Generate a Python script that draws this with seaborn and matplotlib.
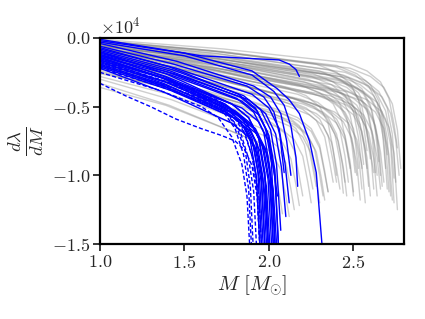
import matplotlib
matplotlib.use("Agg")
import matplotlib.pyplot as plt
import seaborn as sns
import pandas as pd

# values in units of 1e4
SCALE = 1e4

# grey curves: (masses, dlambda/dM)
grey_curves = [
    ([1.0, 1.74, 2.48, 2.60, 2.68, 2.73, 2.76, 2.78], [-0.02, -0.10, -0.22, -0.28, -0.36, -0.48, -0.67, -0.95]),
    ([1.0, 1.725, 2.45, 2.57, 2.65, 2.70, 2.73, 2.75], [-0.03, -0.12, -0.25, -0.31, -0.39, -0.51, -0.70, -1.05]),
    ([1.0, 1.71, 2.42, 2.54, 2.62, 2.67, 2.70, 2.72], [-0.05, -0.15, -0.28, -0.34, -0.42, -0.54, -0.73, -1.15]),
    ([1.0, 1.70, 2.40, 2.52, 2.60, 2.65, 2.68, 2.70], [-0.04, -0.15, -0.30, -0.36, -0.44, -0.56, -0.75, -1.10]),
    ([1.0, 1.68, 2.36, 2.48, 2.56, 2.61, 2.64, 2.66], [-0.06, -0.15, -0.27, -0.33, -0.41, -0.53, -0.72, -1.00]),
    ([1.0, 1.72, 2.44, 2.56, 2.64, 2.69, 2.72, 2.74], [-0.07, -0.18, -0.33, -0.39, -0.47, -0.59, -0.78, -1.20]),
    ([1.0, 1.66, 2.32, 2.44, 2.52, 2.57, 2.60, 2.62], [-0.08, -0.19, -0.35, -0.41, -0.49, -0.61, -0.80, -1.10]),
    ([1.0, 1.69, 2.38, 2.50, 2.58, 2.63, 2.66, 2.68], [-0.10, -0.22, -0.38, -0.44, -0.52, -0.64, -0.83, -1.05]),
    ([1.0, 1.64, 2.28, 2.40, 2.48, 2.53, 2.56, 2.58], [-0.05, -0.16, -0.32, -0.38, -0.46, -0.58, -0.77, -0.95]),
    ([1.0, 1.625, 2.25, 2.37, 2.45, 2.50, 2.53, 2.55], [-0.09, -0.22, -0.40, -0.46, -0.54, -0.66, -0.85, -1.10]),
    ([1.0, 1.65, 2.30, 2.42, 2.50, 2.55, 2.58, 2.60], [-0.12, -0.25, -0.42, -0.48, -0.56, -0.68, -0.87, -1.15]),
    ([1.0, 1.61, 2.22, 2.34, 2.42, 2.47, 2.50, 2.52], [-0.11, -0.22, -0.36, -0.42, -0.50, -0.62, -0.81, -1.00]),
    ([1.0, 1.60, 2.20, 2.32, 2.40, 2.45, 2.48, 2.50], [-0.14, -0.27, -0.45, -0.51, -0.59, -0.71, -0.90, -1.12]),
    ([1.0, 1.635, 2.27, 2.39, 2.47, 2.52, 2.55, 2.57], [-0.13, -0.28, -0.48, -0.54, -0.62, -0.74, -0.93, -1.20]),
    ([1.0, 1.575, 2.15, 2.27, 2.35, 2.40, 2.43, 2.45], [-0.15, -0.27, -0.44, -0.50, -0.58, -0.70, -0.89, -1.05]),
    ([1.0, 1.59, 2.18, 2.30, 2.38, 2.43, 2.46, 2.48], [-0.08, -0.19, -0.34, -0.40, -0.48, -0.60, -0.79, -0.95]),
    ([1.0, 1.56, 2.12, 2.24, 2.32, 2.37, 2.40, 2.42], [-0.17, -0.31, -0.50, -0.56, -0.64, -0.76, -0.95, -1.10]),
    ([1.0, 1.54, 2.08, 2.20, 2.28, 2.33, 2.36, 2.38], [-0.16, -0.29, -0.46, -0.52, -0.60, -0.72, -0.91, -1.05]),
    ([1.0, 1.525, 2.05, 2.17, 2.25, 2.30, 2.33, 2.35], [-0.18, -0.32, -0.52, -0.58, -0.66, -0.78, -0.97, -1.12]),
    ([1.0, 1.51, 2.02, 2.14, 2.22, 2.27, 2.30, 2.32], [-0.20, -0.35, -0.55, -0.61, -0.69, -0.81, -1.00, -1.15]),
    ([1.0, 1.49, 1.98, 2.10, 2.18, 2.23, 2.26, 2.28], [-0.22, -0.34, -0.50, -0.56, -0.64, -0.76, -0.95, -1.08]),
    ([1.0, 1.50, 2.00, 2.12, 2.20, 2.25, 2.28, 2.30], [-0.19, -0.35, -0.58, -0.64, -0.72, -0.84, -1.03, -1.20]),
    ([1.0, 1.475, 1.95, 2.07, 2.15, 2.20, 2.23, 2.25], [-0.24, -0.39, -0.60, -0.66, -0.74, -0.86, -1.05, -1.20]),
    ([1.0, 1.45, 1.90, 2.02, 2.10, 2.15, 2.18, 2.20], [-0.25, -0.38, -0.56, -0.62, -0.70, -0.82, -1.01, -1.15]),
    ([1.0, 1.44, 1.88, 2.00, 2.08, 2.13, 2.16, 2.18], [-0.28, -0.42, -0.62, -0.68, -0.76, -0.88, -1.07, -1.22]),
    ([1.0, 1.425, 1.85, 1.97, 2.05, 2.10, 2.13, 2.15], [-0.30, -0.45, -0.65, -0.71, -0.79, -0.91, -1.10, -1.25]),
    ([1.0, 1.41, 1.82, 1.94, 2.02, 2.07, 2.10, 2.12], [-0.33, -0.49, -0.70, -0.76, -0.84, -0.96, -1.15, -1.30]),
    ([1.0, 1.39, 1.78, 1.90, 1.98, 2.03, 2.06, 2.08], [-0.36, -0.49, -0.68, -0.74, -0.82, -0.94, -1.13, -1.28]),
    ([1.0, 1.67, 2.34, 2.46, 2.54, 2.59, 2.62, 2.64], [-0.10, -0.18, -0.30, -0.36, -0.44, -0.56, -0.75, -1.00]),
    ([1.0, 1.70, 2.40, 2.52, 2.60, 2.65, 2.68, 2.70], [-0.03, -0.10, -0.20, -0.26, -0.34, -0.46, -0.65, -0.85]),
    ([1.0, 1.735, 2.47, 2.59, 2.67, 2.72, 2.75, 2.77], [-0.06, -0.16, -0.29, -0.35, -0.43, -0.55, -0.74, -1.00]),
    ([1.0, 1.715, 2.43, 2.55, 2.63, 2.68, 2.71, 2.73], [-0.12, -0.24, -0.40, -0.46, -0.54, -0.66, -0.85, -1.18]),
    ([1.0, 1.66, 2.32, 2.44, 2.52, 2.57, 2.60, 2.62], [-0.14, -0.24, -0.38, -0.44, -0.52, -0.64, -0.83, -0.98]),
    ([1.0, 1.55, 2.10, 2.22, 2.30, 2.35, 2.38, 2.40], [-0.07, -0.19, -0.36, -0.42, -0.50, -0.62, -0.81, -1.00]),
    ([1.0, 1.60, 2.20, 2.32, 2.40, 2.45, 2.48, 2.50], [-0.20, -0.32, -0.48, -0.54, -0.62, -0.74, -0.93, -1.15]),
    ([1.0, 1.68, 2.36, 2.48, 2.56, 2.61, 2.64, 2.66], [-0.16, -0.27, -0.42, -0.48, -0.56, -0.68, -0.87, -1.10]),
    ([1.0, 1.63, 2.26, 2.38, 2.46, 2.51, 2.54, 2.56], [-0.09, -0.16, -0.26, -0.32, -0.40, -0.52, -0.71, -0.92]),
    ([1.0, 1.57, 2.14, 2.26, 2.34, 2.39, 2.42, 2.44], [-0.11, -0.25, -0.44, -0.50, -0.58, -0.70, -0.89, -1.13]),
    ([1.0, 1.525, 2.05, 2.17, 2.25, 2.30, 2.33, 2.35], [-0.26, -0.38, -0.54, -0.60, -0.68, -0.80, -0.99, -1.12]),
    ([1.0, 1.65, 2.30, 2.42, 2.50, 2.55, 2.58, 2.60], [-0.04, -0.12, -0.24, -0.30, -0.38, -0.50, -0.69, -0.88]),
    ([1.0, 1.73, 2.46, 2.58, 2.66, 2.71, 2.74, 2.76], [-0.01, -0.08, -0.18, -0.24, -0.32, -0.44, -0.63, -0.80]),
    ([1.0, 1.695, 2.39, 2.51, 2.59, 2.64, 2.67, 2.69], [-0.02, -0.10, -0.21, -0.27, -0.35, -0.47, -0.66, -0.95]),
    ([1.0, 1.665, 2.33, 2.45, 2.53, 2.58, 2.61, 2.63], [-0.04, -0.13, -0.26, -0.32, -0.40, -0.52, -0.71, -0.98]),
    ([1.0, 1.705, 2.41, 2.53, 2.61, 2.66, 2.69, 2.71], [-0.06, -0.17, -0.31, -0.37, -0.45, -0.57, -0.76, -1.12]),
    ([1.0, 1.615, 2.23, 2.35, 2.43, 2.48, 2.51, 2.53], [-0.08, -0.17, -0.30, -0.36, -0.44, -0.56, -0.75, -0.95]),
    ([1.0, 1.645, 2.29, 2.41, 2.49, 2.54, 2.57, 2.59], [-0.10, -0.21, -0.37, -0.43, -0.51, -0.63, -0.82, -1.08]),
    ([1.0, 1.585, 2.17, 2.29, 2.37, 2.42, 2.45, 2.47], [-0.13, -0.25, -0.41, -0.47, -0.55, -0.67, -0.86, -1.05]),
    ([1.0, 1.62, 2.24, 2.36, 2.44, 2.49, 2.52, 2.54], [-0.15, -0.28, -0.47, -0.53, -0.61, -0.73, -0.92, -1.18]),
    ([1.0, 1.72, 2.44, 2.56, 2.64, 2.69, 2.72, 2.74], [-0.05, -0.14, -0.27, -0.33, -0.41, -0.53, -0.72, -1.02]),
    ([1.0, 1.685, 2.37, 2.49, 2.57, 2.62, 2.65, 2.67], [-0.09, -0.20, -0.34, -0.40, -0.48, -0.60, -0.79, -1.08]),
    ([1.0, 1.55, 2.10, 2.22, 2.30, 2.35, 2.38, 2.40], [-0.18, -0.29, -0.45, -0.51, -0.59, -0.71, -0.90, -1.05]),
    ([1.0, 1.48, 1.96, 2.08, 2.16, 2.21, 2.24, 2.26], [-0.21, -0.34, -0.52, -0.58, -0.66, -0.78, -0.97, -1.10]),
    ([1.0, 1.675, 2.35, 2.47, 2.55, 2.60, 2.63, 2.65], [-0.03, -0.11, -0.23, -0.29, -0.37, -0.49, -0.68, -0.90]),
    ([1.0, 1.73, 2.46, 2.58, 2.66, 2.71, 2.74, 2.76], [-0.11, -0.23, -0.39, -0.45, -0.53, -0.65, -0.84, -1.25]),
    ([1.0, 1.605, 2.21, 2.33, 2.41, 2.46, 2.49, 2.51], [-0.07, -0.18, -0.32, -0.38, -0.46, -0.58, -0.77, -0.98]),
    ([1.0, 1.67, 2.34, 2.46, 2.54, 2.59, 2.62, 2.64], [-0.14, -0.26, -0.43, -0.49, -0.57, -0.69, -0.88, -1.15]),
    ([1.0, 1.64, 2.28, 2.40, 2.48, 2.53, 2.56, 2.58], [-0.02, -0.09, -0.19, -0.25, -0.33, -0.45, -0.64, -0.82]),
    ([1.0, 1.58, 2.16, 2.28, 2.36, 2.41, 2.44, 2.46], [-0.17, -0.30, -0.49, -0.55, -0.63, -0.75, -0.94, -1.15]),
    ([1.0, 1.515, 2.03, 2.15, 2.23, 2.28, 2.31, 2.33], [-0.23, -0.37, -0.57, -0.63, -0.71, -0.83, -1.02, -1.18]),
    ([1.0, 1.625, 2.25, 2.37, 2.45, 2.50, 2.53, 2.55], [-0.06, -0.15, -0.28, -0.34, -0.42, -0.54, -0.73, -0.95]),
]

# blue solid curves
blue_curves = [
    ([1.0, 1.39, 1.78, 1.88, 1.94, 1.975, 2.00], [-0.10, -0.26, -0.48, -0.58, -0.73, -0.98, -1.6]),
    ([1.0, 1.38, 1.76, 1.86, 1.92, 1.955, 1.98], [-0.12, -0.28, -0.50, -0.60, -0.75, -1.00, -1.6]),
    ([1.0, 1.40, 1.80, 1.90, 1.96, 1.995, 2.02], [-0.14, -0.30, -0.53, -0.63, -0.78, -1.03, -1.6]),
    ([1.0, 1.37, 1.74, 1.84, 1.90, 1.935, 1.96], [-0.15, -0.29, -0.48, -0.58, -0.73, -0.98, -1.6]),
    ([1.0, 1.41, 1.82, 1.92, 1.98, 2.015, 2.04], [-0.16, -0.33, -0.56, -0.66, -0.81, -1.06, -1.6]),
    ([1.0, 1.385, 1.77, 1.87, 1.93, 1.965, 1.99], [-0.18, -0.32, -0.52, -0.62, -0.77, -1.02, -1.6]),
    ([1.0, 1.42, 1.84, 1.94, 2.00, 2.035, 2.06], [-0.13, -0.27, -0.46, -0.56, -0.71, -0.96, -1.6]),
    ([1.0, 1.395, 1.79, 1.89, 1.95, 1.985, 2.01], [-0.20, -0.36, -0.58, -0.68, -0.83, -1.08, -1.6]),
    ([1.0, 1.405, 1.81, 1.91, 1.97, 2.005, 2.03], [-0.11, -0.25, -0.44, -0.54, -0.69, -0.94, -1.6]),
    ([1.0, 1.375, 1.75, 1.85, 1.91, 1.945, 1.97], [-0.17, -0.33, -0.54, -0.64, -0.79, -1.04, -1.6]),
    ([1.0, 1.415, 1.83, 1.93, 1.99, 2.025, 2.05], [-0.21, -0.38, -0.60, -0.70, -0.85, -1.10, -1.6]),
    ([1.0, 1.425, 1.85, 1.95, 2.01, 2.045, 2.07], [-0.09, -0.23, -0.42, -0.52, -0.67, -0.92, -1.40]),
    ([1.0, 1.435, 1.87, 1.97, 2.03, 2.065, 2.09], [-0.06, -0.19, -0.35, -0.43, -0.54, -0.71, -0.98]),
    ([1.0, 1.5, 1.9, 2.03, 2.09, 2.13, 2.16, 2.17], [-0.03, -0.13, -0.27, -0.39, -0.49, -0.64, -0.87, -1.08]),
    ([1.0, 1.5, 1.9, 2.05, 2.12, 2.18, 2.24, 2.28, 2.32], [-0.02, -0.11, -0.24, -0.37, -0.45, -0.55, -0.75, -0.98, -1.6]),
    ([1.0, 1.3, 1.6, 1.9, 2.06, 2.12, 2.16, 2.18], [-0.01, -0.07, -0.13, -0.15, -0.16, -0.19, -0.23, -0.28]),
    ([1.0, 1.45, 1.90, 2.00, 2.06, 2.095, 2.12], [-0.08, -0.22, -0.41, -0.51, -0.66, -0.91, -1.20]),
    ([1.0, 1.39, 1.78, 1.88, 1.94, 1.975, 2.00], [-0.22, -0.40, -0.62, -0.72, -0.87, -1.12, -1.6]),
    ([1.0, 1.405, 1.81, 1.91, 1.97, 2.005, 2.03], [-0.19, -0.35, -0.56, -0.66, -0.81, -1.06, -1.6]),
    ([1.0, 1.365, 1.73, 1.83, 1.89, 1.925, 1.95], [-0.14, -0.29, -0.50, -0.60, -0.75, -1.00, -1.6]),
    ([1.0, 1.44, 1.88, 1.98, 2.04, 2.075, 2.10], [-0.12, -0.26, -0.45, -0.55, -0.70, -0.95, -1.30]),
    ([1.0, 1.455, 1.91, 2.01, 2.07, 2.105, 2.13], [-0.04, -0.17, -0.35, -0.43, -0.55, -0.75, -1.00]),
    ([1.0, 1.42, 1.84, 1.94, 2.00, 2.035, 2.06], [-0.16, -0.31, -0.51, -0.61, -0.76, -1.01, -1.6]),
    ([1.0, 1.38, 1.76, 1.86, 1.92, 1.955, 1.98], [-0.20, -0.35, -0.55, -0.65, -0.80, -1.05, -1.6]),
    ([1.0, 1.41, 1.82, 1.92, 1.98, 2.015, 2.04], [-0.07, -0.21, -0.41, -0.51, -0.66, -0.91, -1.6]),
    ([1.0, 1.39, 1.78, 1.88, 1.94, 1.975, 2.00], [-0.13, -0.28, -0.48, -0.58, -0.73, -0.98, -1.6]),
    ([1.0, 1.415, 1.83, 1.93, 1.99, 2.025, 2.05], [-0.10, -0.24, -0.43, -0.53, -0.68, -0.93, -1.15]),
]

# blue dashed curves
dashed_curves = [
    ([1.0, 1.15, 1.3, 1.45, 1.6, 1.72, 1.8, 1.86, 1.9, 1.93, 1.95],
     [-0.33, -0.42, -0.50, -0.59, -0.66, -0.71, -0.75, -0.82, -0.93, -1.15, -1.6]),
    ([1.0, 1.35, 1.6, 1.72, 1.8, 1.85, 1.88, 1.90], [-0.20, -0.33, -0.44, -0.52, -0.66, -0.85, -1.10, -1.6]),
    ([1.0, 1.35, 1.6, 1.72, 1.8, 1.86, 1.89, 1.91], [-0.17, -0.30, -0.42, -0.50, -0.62, -0.82, -1.08, -1.6]),
    ([1.0, 1.35, 1.62, 1.75, 1.83, 1.88, 1.91, 1.93], [-0.22, -0.35, -0.47, -0.55, -0.68, -0.88, -1.12, -1.6]),
    ([1.0, 1.35, 1.62, 1.76, 1.84, 1.9, 1.93, 1.95], [-0.15, -0.28, -0.40, -0.50, -0.64, -0.86, -1.10, -1.6]),
    ([1.0, 1.35, 1.6, 1.7, 1.78, 1.84, 1.87, 1.89], [-0.25, -0.38, -0.50, -0.58, -0.72, -0.92, -1.15, -1.6]),
    ([1.0, 1.4, 1.65, 1.78, 1.86, 1.91, 1.94, 1.96], [-0.19, -0.32, -0.45, -0.55, -0.70, -0.90, -1.15, -1.6]),
]


def to_frame(curves):
    rows = []
    for k, (ms, ys) in enumerate(curves):
        for m, y in zip(ms, ys):
            rows.append({"M": m, "dl": y * SCALE, "curve": k})
    return pd.DataFrame(rows)


sns.set_style("ticks")
plt.rcParams.update({
    "font.family": "serif",
    "font.serif": ["cmr10"],
    "mathtext.fontset": "cm",
    "axes.formatter.use_mathtext": True,
    "font.size": 13,
    "axes.linewidth": 1.6,
})

fig = plt.figure(figsize=(4.25, 3.19), dpi=100)
ax = fig.add_axes([0.235, 0.235, 0.716, 0.646])

sns.lineplot(data=to_frame(grey_curves), x="M", y="dl", units="curve",
             estimator=None, sort=False, color="gray", alpha=0.38, lw=1.0, ax=ax)
sns.lineplot(data=to_frame(blue_curves), x="M", y="dl", units="curve",
             estimator=None, sort=False, color="b", lw=1.0, ax=ax)
sns.lineplot(data=to_frame(dashed_curves), x="M", y="dl", units="curve",
             estimator=None, sort=False, color="b", lw=1.0, ax=ax)
for line in ax.lines[-len(dashed_curves):]:
    line.set_dashes((3, 1.6))

ax.set_xlim(1.0, 2.8)
ax.set_ylim(-1.5e4, 0)
ax.set_xticks([1.0, 1.5, 2.0, 2.5])
ax.set_yticks([-1.5e4, -1.0e4, -0.5e4, 0])
ax.ticklabel_format(axis="y", style="sci", scilimits=(0, 0))
ax.yaxis.get_offset_text().set_fontsize(13)
ax.tick_params(direction="out", length=5, width=1.3, labelsize=13,
               top=False, right=False, pad=2)
for sp in ax.spines.values():
    sp.set_visible(True)
    sp.set_color("black")
ax.set_xlabel(r"$M\ [M_{\odot}]$", fontsize=15, labelpad=2)
ax.set_ylabel(r"$\frac{d\lambda}{dM}$", fontsize=19, labelpad=4)

fig.savefig("out.png", dpi=100)
